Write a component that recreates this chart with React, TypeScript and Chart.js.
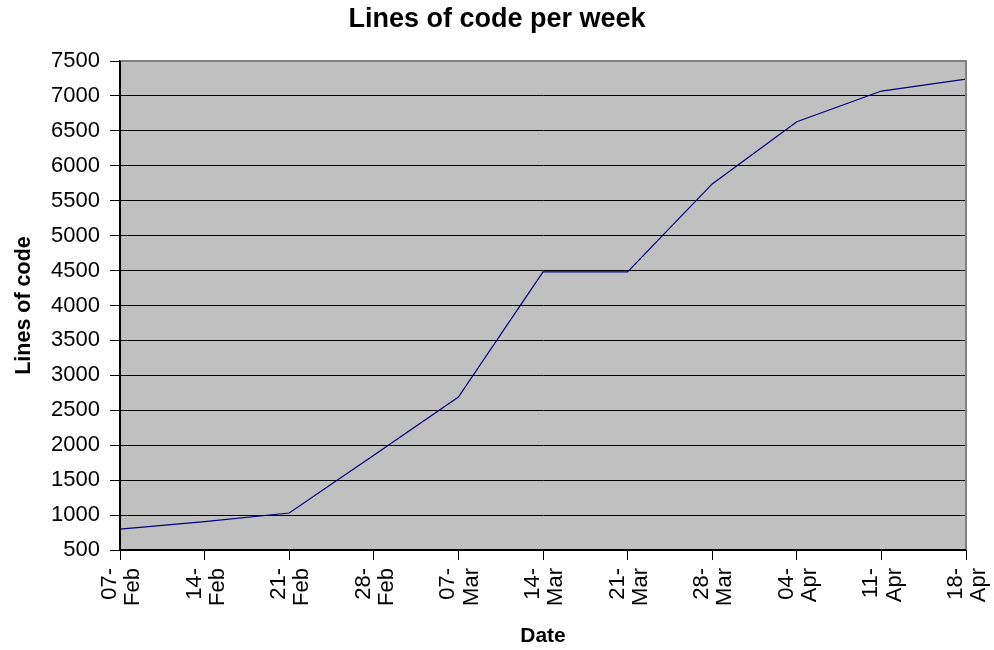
import React, { useEffect, useRef } from "react";
import { Chart, registerables } from "chart.js";

Chart.register(...registerables);

const categories: string[][] = [
  ["07-", "Feb"], ["14-", "Feb"], ["21-", "Feb"], ["28-", "Feb"],
  ["07-", "Mar"], ["14-", "Mar"], ["21-", "Mar"], ["28-", "Mar"],
  ["04-", "Apr"], ["11-", "Apr"], ["18-", "Apr"],
];
const linesOfCode: number[] = [800, 905, 1030, 1855, 2690, 4480, 4480, 5740, 6630, 7070, 7240];
const yMin = 500;
const yMax = 7500;
const yStep = 500;

const FONT = "'Liberation Sans', Arial, sans-serif";

const plotBg = {
  id: "plotBg",
  beforeDraw(chart: any) {
    const { ctx, chartArea: a } = chart;
    ctx.save();
    ctx.fillStyle = "#C0C0C0";
    ctx.fillRect(a.left, a.top, a.right - a.left, a.bottom - a.top);
    ctx.restore();
  },
  afterDraw(chart: any) {
    const { ctx, chartArea: a } = chart;
    ctx.save();
    ctx.strokeStyle = "#808080";
    ctx.lineWidth = 2;
    ctx.beginPath();
    ctx.moveTo(a.left, a.top);
    ctx.lineTo(a.right, a.top);
    ctx.lineTo(a.right, a.bottom);
    ctx.stroke();
    ctx.strokeStyle = "#000";
    ctx.lineWidth = 2;
    ctx.beginPath();
    ctx.moveTo(a.left, a.top);
    ctx.lineTo(a.left, a.bottom);
    ctx.lineTo(a.right, a.bottom);
    ctx.stroke();
    ctx.restore();
  },
};

export default function App() {
  const ref = useRef<HTMLCanvasElement>(null);
  useEffect(() => {
    if (!ref.current) return;
    const chart = new Chart(ref.current, {
      type: "line",
      data: {
        labels: categories,
        datasets: [
          {
            label: "Lines of code",
            data: linesOfCode,
            borderColor: "#000080",
            borderWidth: 1.2,
            pointRadius: 0,
            tension: 0,
            fill: false,
          },
        ],
      },
      options: {
        responsive: false,
        animation: false,
        devicePixelRatio: 1,
        layout: { padding: { left: 0, right: 0, top: 0, bottom: 1 } },
        plugins: {
          legend: { display: false },
          tooltip: { enabled: false },
          title: {
            display: true,
            text: "Lines of code per week",
            color: "#000",
            font: { family: FONT, size: 27, weight: "bold" },
            padding: { top: 3, bottom: 25.6 },
          },
        },
        scales: {
          x: {
            type: "category",
            offset: false,
            afterFit: (s: any) => {
              s.height = 99;
              s.paddingLeft = 0;
              s.paddingRight = 28;
            },
            grid: {
              drawOnChartArea: false,
              drawTicks: true,
              tickLength: 10,
              color: "#000",
              lineWidth: 1,
            },
            border: { display: true, color: "#000", width: 2 },
            ticks: {
              color: "#000",
              font: { family: FONT, size: 22, lineHeight: 1.05 },
              maxRotation: 90,
              minRotation: 90,
              autoSkip: false,
              padding: 8,
              labelOffset: -10,
            },
            title: {
              display: true,
              text: "Date",
              color: "#000",
              font: { family: FONT, size: 21, weight: "bold" },
              padding: { top: 0, bottom: 0 },
            },
          },
          y: {
            min: yMin,
            max: yMax,
            afterFit: (s: any) => {
              s.width = 120;
              s.paddingTop = 0;
              s.paddingBottom = 0;
            },
            grid: {
              drawOnChartArea: true,
              drawTicks: true,
              tickLength: 10,
              color: "#000",
              lineWidth: 1,
            },
            border: { display: true, color: "#000", width: 2 },
            ticks: {
              stepSize: yStep,
              color: "#000",
              font: { family: FONT, size: 22 },
              padding: 10,
              callback: (v: any) => String(v),
            },
            title: {
              display: true,
              text: "Lines of code",
              color: "#000",
              font: { family: FONT, size: 21.5, weight: "bold" },
              padding: { top: 11, bottom: 0 },
            },
          },
        },
      },
      plugins: [plotBg],
    });
    return () => chart.destroy();
  }, []);
  return (
    <div style={{ position: "absolute", left: 0, top: 0, width: 994, height: 650 }}>
      <canvas ref={ref} width={994} height={650} />
    </div>
  );
}
